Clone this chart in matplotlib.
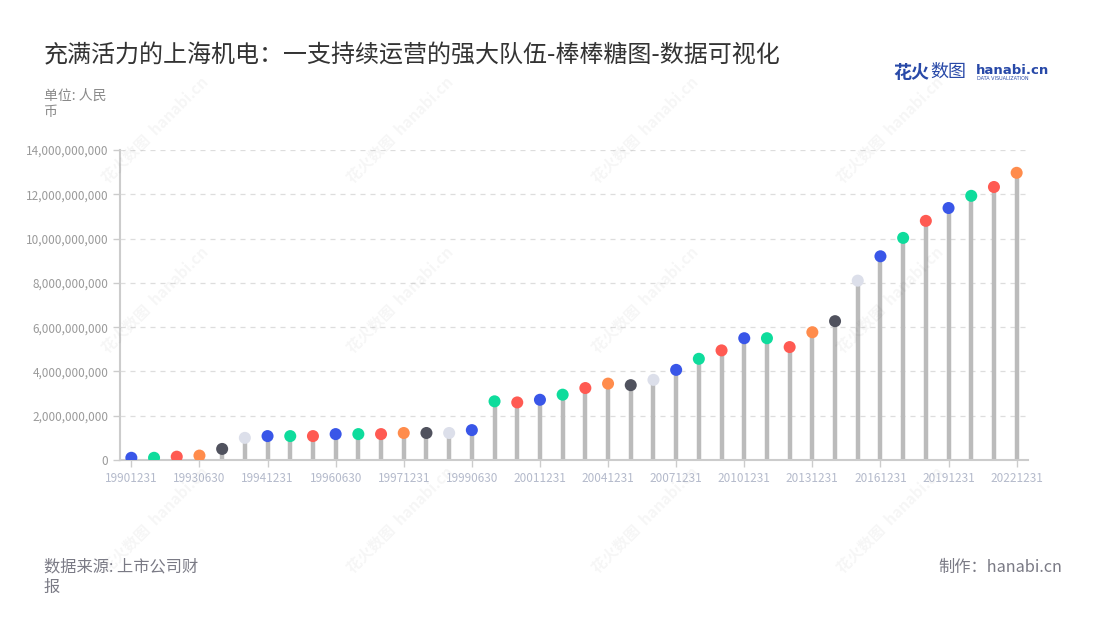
import matplotlib
matplotlib.use("Agg")
from matplotlib import pyplot as plt

plt.rcParams['font.family'] = ['Noto Sans CJK SC', 'DejaVu Sans']

dates = [
    '19901231', '19911231', '19921231', '19930630', '19931231', '19940630',
    '19941231', '19950630', '19951231', '19960630', '19961231', '19970630',
    '19971231', '19980630', '19981231', '19990630', '19991231', '20001231',
    '20011231', '20021231', '20031231', '20041231', '20051231', '20061231',
    '20071231', '20081231', '20091231', '20101231', '20111231', '20121231',
    '20131231', '20141231', '20151231', '20161231', '20171231', '20181231',
    '20191231', '20201231', '20211231', '20221231',
]
# values in RMB
values = [
    0.10e9, 0.10e9, 0.15e9, 0.20e9, 0.50e9, 1.00e9,
    1.08e9, 1.08e9, 1.08e9, 1.17e9, 1.17e9, 1.17e9,
    1.22e9, 1.22e9, 1.22e9, 1.35e9, 2.65e9, 2.60e9,
    2.72e9, 2.95e9, 3.25e9, 3.45e9, 3.38e9, 3.62e9,
    4.07e9, 4.57e9, 4.95e9, 5.50e9, 5.50e9, 5.10e9,
    5.77e9, 6.27e9, 8.10e9, 9.20e9, 10.03e9, 10.80e9,
    11.38e9, 11.93e9, 12.33e9, 12.97e9,
]
palette = ['#3956e8', '#0edc9c', '#ff5a52', '#ff8c4c', '#50525e',
           '#dcdfea', '#3956e8', '#0edc9c', '#ff5a52']
y_ticks = [0, 2e9, 4e9, 6e9, 8e9, 10e9, 12e9, 14e9]

fig = plt.figure(figsize=(11, 6.2), dpi=100)
ax = fig.add_axes([120 / 1100, 160 / 620, 908 / 1100, 310 / 620])

x = list(range(len(dates)))
colors = [palette[i % len(palette)] for i in x]
ax.vlines(x, 0, values, color='#bbbbbb', linewidth=3.2, zorder=2)
ax.scatter(x, values, s=75, c=colors, zorder=3, linewidths=0)

ax.set_xlim(-0.5, len(dates) - 0.5)
ax.set_ylim(0, 14e9)
ax.set_yticks(y_ticks)
ax.set_yticklabels(['{:,.0f}'.format(v) for v in y_ticks])
ax.set_xticks(x[::3])
ax.set_xticklabels(dates[::3])
ax.tick_params(axis='y', colors='#cccccc', labelcolor='#9a9a9a', labelsize=8.5, length=5, width=1)
ax.tick_params(axis='x', colors='#cccccc', labelcolor='#b4bacb', labelsize=8.5, length=5, width=1)
ax.grid(axis='y', color='#dddddd', linestyle=(0, (4, 4)), linewidth=0.9, zorder=0)
for side in ['top', 'right']:
    ax.spines[side].set_visible(False)
for side in ['left', 'bottom']:
    ax.spines[side].set_color('#cccccc')
    ax.spines[side].set_linewidth(1.5)
ax.spines['left'].set_zorder(1)

# watermarks
for wx in [155, 400, 645, 890]:
    for wy in [130, 300, 520]:
        fig.text(wx / 1100, 1 - wy / 620, '花火数图  hanabi.cn', fontsize=11,
                 color='#000000', alpha=0.04, rotation=45, ha='center', va='center',
                 fontweight='bold')

fig.text(44 / 1100, 1 - 55 / 620, '充满活力的上海机电：一支持续运营的强大队伍-棒棒糖图-数据可视化',
         fontsize=17.3, color='#333333', va='center')
fig.text(44 / 1100, 1 - 104 / 620, '单位: 人民\n币', fontsize=10, color='#8a8a8a',
         va='center', linespacing=1.25)
fig.text(44 / 1100, 1 - 577 / 620, '数据来源: 上市公司财\n报', fontsize=11.7, color='#7a7a85',
         va='center', linespacing=1.25)
fig.text(1062 / 1100, 1 - 567 / 620, '制作：hanabi.cn', fontsize=11.7, color='#7a7a85',
         va='center', ha='right')

# logo
fig.text(893 / 1100, 1 - 72 / 620, '花火', fontsize=13, color='#2849a8', va='center',
         fontweight='bold')
fig.text(930 / 1100, 1 - 72 / 620, '数图', fontsize=13, color='#2849a8', va='center')
fig.text(976 / 1100, 1 - 70 / 620, 'hanabi.cn', fontsize=9.5, color='#2849a8', va='center',
         fontweight='bold', family=['DejaVu Sans'])
fig.text(977 / 1100, 1 - 79 / 620, 'DATA VISUALIZATION', fontsize=3.5, color='#2849a8',
         va='center', family=['DejaVu Sans'])

fig.savefig('out.png', dpi=100, facecolor='white')
